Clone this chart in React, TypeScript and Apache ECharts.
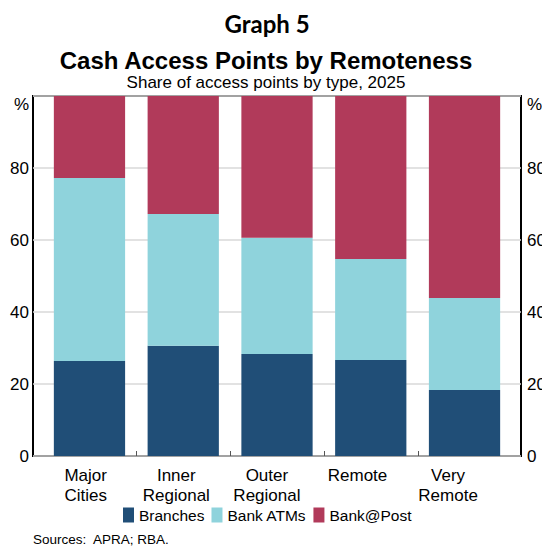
import React, { useEffect, useRef } from "react";
import * as echarts from "echarts";

const categories = ["Major\nCities", "Inner\nRegional", "Outer\nRegional", "Remote", "Very\nRemote"];
const branches = [26.4, 30.6, 28.3, 26.7, 18.3];
const bankATMs = [50.8, 36.6, 32.3, 28.0, 25.6];
const bankAtPost = [22.8, 32.8, 39.4, 45.3, 56.1];
const boundaryTicks = [1, 2, 3, 4];

const COLORS = { branches: "#204e77", atms: "#8fd3dc", post: "#b13a5a" };
const FONT = "'Liberation Sans', Arial, sans-serif";

export default function App() {
  const ref = useRef<HTMLDivElement>(null);
  useEffect(() => {
    document.body.style.margin = "0";
    if (!ref.current) return;
    const chart = echarts.init(ref.current, undefined, { renderer: "svg" });
    const yLabel = (v: number) => (v === 100 ? "{p|%}" : String(v));
    const yRich = { p: { fontSize: 17, color: "#000", padding: [16, 0, 0, 0] } };
    chart.setOption({
      animation: false,
      backgroundColor: "#fff",
      textStyle: { fontFamily: FONT },
      graphic: [
        {
          type: "text",
          x: 267,
          y: 23,
          style: {
            text: "Graph 5",
            font: "bold 24px Lato, 'Open Sans', sans-serif",
            fill: "#000",
            align: "center",
            verticalAlign: "middle",
          },
        },
        {
          type: "text",
          x: 266,
          y: 60.5,
          style: {
            text: "Cash Access Points by Remoteness",
            font: "bold 24px " + FONT,
            fill: "#000",
            align: "center",
            verticalAlign: "middle",
          },
        },
        {
          type: "text",
          x: 266,
          y: 82,
          style: {
            text: "Share of access points by type, 2025",
            font: "17px " + FONT,
            fill: "#000",
            align: "center",
            verticalAlign: "middle",
          },
        },
        {
          type: "text",
          x: 33,
          y: 539.5,
          style: {
            text: "Sources:  APRA; RBA.",
            font: "13.5px " + FONT,
            fill: "#000",
            align: "left",
            verticalAlign: "middle",
          },
        },
      ],
      grid: [
        {
          left: 33,
          right: 21,
          top: 96,
          bottom: 91,
          show: true,
          borderColor: "#000",
          borderWidth: 2,
          backgroundColor: "transparent",
          outerBoundsMode: "none",
          containLabel: false,
        },
        { left: 42.6, right: 30.6, top: 96, bottom: 91, outerBoundsMode: "none", containLabel: false },
        { left: 40.4, right: 48.6, top: 96, bottom: 91, outerBoundsMode: "none", containLabel: false },
      ],
      legend: {
        left: 118,
        top: 502,
        itemWidth: 11,
        itemHeight: 15,
        itemGap: 7,
        icon: "rect",
        textStyle: { fontSize: 15.5, color: "#000", fontFamily: FONT },
        data: ["Branches", "Bank ATMs", "Bank@Post"],
      },
      xAxis: [
        { type: "value", gridIndex: 0, show: false, min: 0, max: 1 },
        {
          type: "category",
          gridIndex: 1,
          data: categories,
          axisLine: { show: false },
          axisTick: { show: false },
          axisLabel: { show: false },
        },
        {
          type: "category",
          gridIndex: 2,
          data: categories,
          axisLine: { show: false },
          axisTick: { show: false },
          axisLabel: { fontSize: 17, color: "#000", lineHeight: 20, margin: 9, interval: 0 },
        },
      ],
      yAxis: [
        {
          type: "value",
          gridIndex: 0,
          min: 0,
          max: 100,
          interval: 20,
          position: "left",
          axisLine: { show: false },
          axisTick: { show: false },
          splitLine: { show: true, lineStyle: { color: "#d9d9d9", width: 1.5 } },
          axisLabel: { fontSize: 17, color: "#000", margin: 4, formatter: yLabel, rich: yRich },
        },
        {
          type: "value",
          gridIndex: 0,
          min: 0,
          max: 100,
          interval: 20,
          position: "right",
          axisLine: { show: false },
          axisTick: { show: false },
          splitLine: { show: false },
          axisLabel: { fontSize: 17, color: "#000", margin: 6, formatter: yLabel, rich: yRich },
        },
        { type: "value", gridIndex: 1, min: 0, max: 100, show: false },
        { type: "value", gridIndex: 2, min: 0, max: 100, show: false },
      ],
      series: [
        {
          name: "Branches",
          type: "bar",
          stack: "s",
          xAxisIndex: 1,
          yAxisIndex: 2,
          data: branches,
          barCategoryGap: "24%",
          itemStyle: { color: COLORS.branches },
        },
        { name: "Bank ATMs", type: "bar", stack: "s", xAxisIndex: 1, yAxisIndex: 2, data: bankATMs, itemStyle: { color: COLORS.atms } },
        { name: "Bank@Post", type: "bar", stack: "s", xAxisIndex: 1, yAxisIndex: 2, data: bankAtPost, itemStyle: { color: COLORS.post } },
        {
          name: "ticks",
          type: "custom",
          xAxisIndex: 1,
          yAxisIndex: 2,
          silent: true,
          clip: false,
          z: 5,
          data: boundaryTicks.map((i) => [i, 0]),
          encode: { x: 0, y: 1 },
          renderItem: (_params: any, api: any) => {
            const p = api.coord([api.value(0), 0]);
            const w = api.size([1, 0])[0];
            const x = Math.round(p[0] - w / 2) + 0.5;
            return {
              type: "line",
              shape: { x1: x, y1: p[1], x2: x, y2: p[1] - 5 },
              style: { stroke: "#555", lineWidth: 1 },
            };
          },
        },
      ],
    });
    return () => chart.dispose();
  }, []);
  return <div ref={ref} style={{ width: 542, height: 547 }} />;
}
